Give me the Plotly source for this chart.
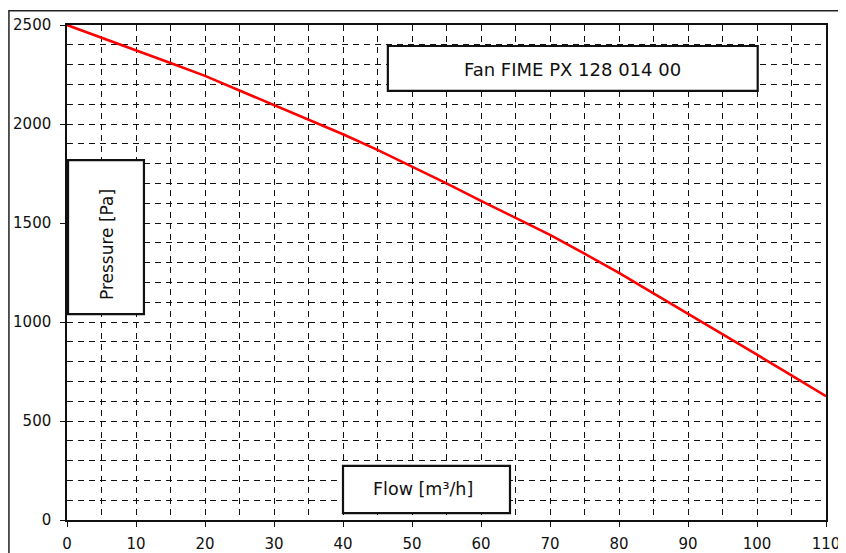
import plotly.graph_objects as go

# Data
flow = [0, 5, 10, 15, 20, 25, 30, 35, 40, 45, 50, 55, 60, 65, 70, 75, 80, 85, 90, 95, 100, 105, 110]
pressure = [2500, 2437, 2372, 2308, 2243, 2170, 2097, 2024, 1948, 1869, 1786, 1700, 1612,
            1527, 1440, 1345, 1248, 1145, 1043, 938, 835, 730, 625]

x_ticks = [0, 10, 20, 30, 40, 50, 60, 70, 80, 90, 100, 110]
y_ticks = [0, 500, 1000, 1500, 2000, 2500]

title_text = "Fan FIME PX 128 014 00"
x_label = "Flow [m³/h]"
y_label = "Pressure [Pa]"

FONT = "DejaVu Sans"

fig = go.Figure()
fig.add_trace(go.Scatter(x=flow, y=pressure, mode="lines",
                         line=dict(color="#ff0000", width=2.6),
                         showlegend=False, hoverinfo="skip"))

grid_common = dict(gridcolor="#111111", gridwidth=1.1, griddash="6px,5px")

fig.update_xaxes(range=[0, 110], tickvals=x_ticks, showline=True, linecolor="#111111",
                 linewidth=1.5, mirror=True, ticks="outside", ticklen=5, tickwidth=1.3,
                 tickcolor="#111111", showgrid=True, zeroline=False,
                 tickfont=dict(family=FONT, size=15, color="#111111"),
                 ticklabelstandoff=4,
                 minor=dict(dtick=5, tick0=0, showgrid=True, ticks="", **grid_common),
                 **grid_common)
fig.update_yaxes(range=[0, 2500], tickvals=y_ticks, showline=True, linecolor="#111111",
                 linewidth=1.5, mirror=True, ticks="outside", ticklen=5, tickwidth=1.3,
                 tickcolor="#111111", showgrid=True, zeroline=False,
                 tickfont=dict(family=FONT, size=15, color="#111111"),
                 ticklabelstandoff=6,
                 minor=dict(dtick=100, tick0=0, showgrid=True, ticks="", **grid_common),
                 **grid_common)

box_line = dict(color="#111111", width=2.2)
shapes = [
    # outer frame (extends beyond the visible page on right/bottom)
    dict(type="rect", xref="paper", yref="paper", x0=-0.0765, x1=1.1, y0=-0.2, y1=1.029,
         line=dict(color="#222222", width=1.5), fillcolor="rgba(0,0,0,0)", layer="below"),
    # label boxes
    dict(type="rect", xref="x", yref="y", x0=46.5, x1=100.1, y0=2167, y1=2394,
         line=box_line, fillcolor="white", layer="above"),
    dict(type="rect", xref="x", yref="y", x0=0.15, x1=11.15, y0=1040, y1=1818,
         line=box_line, fillcolor="white", layer="above"),
    dict(type="rect", xref="x", yref="y", x0=40.0, x1=64.2, y0=35, y1=273,
         line=box_line, fillcolor="white", layer="above"),
]

annotations = [
    dict(x=73.2, y=2275, xref="x", yref="y", text=title_text, showarrow=False,
         font=dict(family=FONT, size=18, color="#111111")),
    dict(x=5.72, y=1391, xref="x", yref="y", text=y_label, showarrow=False, textangle=-90,
         font=dict(family=FONT, size=17, color="#111111")),
    dict(x=51.55, y=155, xref="x", yref="y", text=x_label, showarrow=False,
         font=dict(family=FONT, size=17.5, color="#111111")),
]

# The page places the chart 8px in from the top-left corner, so the figure is
# sized to fit the remaining window area.
fig.update_layout(width=838, height=545, margin=dict(l=59, r=20, t=17, b=33, autoexpand=False),
                  paper_bgcolor="white", plot_bgcolor="white",
                  shapes=shapes, annotations=annotations)

fig.write_html("out.html")
